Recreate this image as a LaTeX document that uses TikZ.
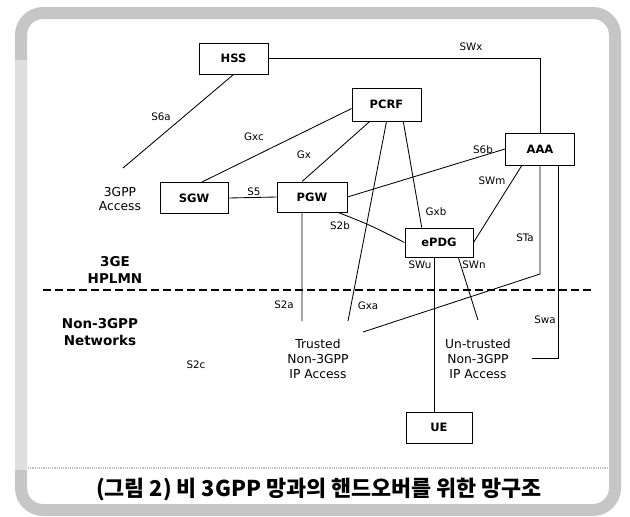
\documentclass[tikz,border=0pt]{standalone}
\usepackage{fontspec}
\setmainfont{DejaVu Sans}
\newfontfamily\krfont{Noto Sans CJK KR}
\usetikzlibrary{calc}
\begin{document}
\begin{tikzpicture}[x=1pt,y=-1pt,
  box/.style={draw,line width=1pt,minimum width=68pt,minimum height=31pt,inner sep=0pt,font=\bfseries\fontsize{11.5}{12}\selectfont},
  link/.style={line width=0.85pt},
  lbl/.style={font=\fontsize{10.3}{11}\selectfont,inner sep=1pt},
  txt/.style={font=\fontsize{12.3}{14.8}\selectfont,align=center,inner sep=0pt},
  big/.style={font=\bfseries\fontsize{13.5}{17}\selectfont,align=center,inner sep=0pt}]
\useasboundingbox (0,0) rectangle (630,517);
% frame
\draw[line width=12pt,gray!45,rounded corners=22pt] (21,13) rectangle (615,510);
\draw[line width=12pt,gray!25] (21,60) -- (21,470);
\draw[gray!50,densely dotted,line width=1.2pt] (28,468) -- (608,468);
\node[font=\krfont\bfseries\fontsize{21.8}{24}\selectfont,inner sep=0pt] (cap) at (319,490) {(그림 2) 비 3GPP 망과의 핸드오버를 위한 망구조};
% nodes
\node[box,minimum width=69pt] (hss) at (233.5,58.5) {HSS};
\node[box,minimum width=69pt,minimum height=33pt] (pcrf) at (386.5,104.5) {PCRF};
\node[box,minimum width=69pt,minimum height=32pt] (aaa) at (540,149) {AAA};
\node[box] (sgw) at (194,198) {SGW};
\node[box,minimum width=70pt,minimum height=30pt] (pgw) at (312,197) {PGW};
\node[box,minimum height=29pt] (epdg) at (439,242.5) {ePDG};
\node[box,minimum width=66pt] (ue) at (439,427.5) {UE};
% free ends
\coordinate (s6aend) at (123,168);
\coordinate (gxaend) at (348,321);
\coordinate (s2aend) at (302,321);
\coordinate (stabend) at (540,274);
\coordinate (staend) at (363,332);
\coordinate (swatop) at ($(aaa.south west)!0.76!(aaa.south east)$);
\coordinate (swaend) at (532,358);
\coordinate (swnend) at (478,320);
\coordinate (dl) at (43,290);
\coordinate (dr) at (592,290);
% connectors
\draw[link] (hss.south) -- (s6aend);
\draw[link] (hss.east) -| (aaa.north);
\draw[link] ($(sgw.north)+(8,0)$) -- ($(pcrf.north west)!0.62!(pcrf.south west)$);
\draw[link] ($(pgw.north west)!0.36!(pgw.north east)$) -- ($(pcrf.south west)!0.26!(pcrf.south east)$);
\draw[link] (sgw.east) -- (pgw.west);
\draw[link] (pgw.east) -- (aaa.west);
\draw[link] ($(aaa.south west)!0.24!(aaa.south east)$) -- (epdg.east);
\draw[link] ($(pcrf.south west)!0.74!(pcrf.south east)$) -- ($(epdg.north west)!0.25!(epdg.north east)$);
\draw[link] ($(pgw.south west)!0.87!(pgw.south east)$) .. controls (370,225) .. (epdg.west);
\draw[link] (pcrf.south) -- (gxaend);
\draw[link] ($(pgw.south west)!0.36!(pgw.south east)$) -- (s2aend);
\draw[link] (aaa.south) -- (stabend) -- (staend);
\draw[link] (swatop) -- (swatop |- swaend) -- (swaend);
\draw[link] ($(epdg.south)+(-5,0)$) -- ($(ue.north)+(-5,0)$);
\draw[link] ($(epdg.south west)!0.78!(epdg.south east)$) -- (swnend);
\draw[line width=1.8pt,dash pattern=on 8pt off 4pt] (dl) -- (dr);
% interface labels
\node[lbl] at (161,117) {S6a};
\node[lbl] at (471,47) {SWx};
\node[lbl] at (254,137) {Gxc};
\node[lbl] at (304,155) {Gx};
\node[lbl] at (254,192) {S5};
\node[lbl] at (483,150) {S6b};
\node[lbl] at (492,181) {SWm};
\node[lbl] at (436,212) {Gxb};
\node[lbl] at (340,226) {S2b};
\node[lbl] at (525,238) {STa};
\node[lbl] at (420,265) {SWu};
\node[lbl] at (474,265) {SWn};
\node[lbl] at (284,305) {S2a};
\node[lbl] at (368,306) {Gxa};
\node[lbl] at (545,320) {Swa};
\node[lbl] at (196,365) {S2c};
% area texts
\node[txt] at (120,199) {3GPP\\Access};
\node[big] at (115,270) {3GE\\HPLMN};
\node[big] at (100,332) {Non-3GPP\\Networks};
\node[txt] at (318,359) {Trusted\\Non-3GPP\\IP Access};
\node[txt] at (478,359) {Un-trusted\\Non-3GPP\\IP Access};
\end{tikzpicture}
\end{document}
